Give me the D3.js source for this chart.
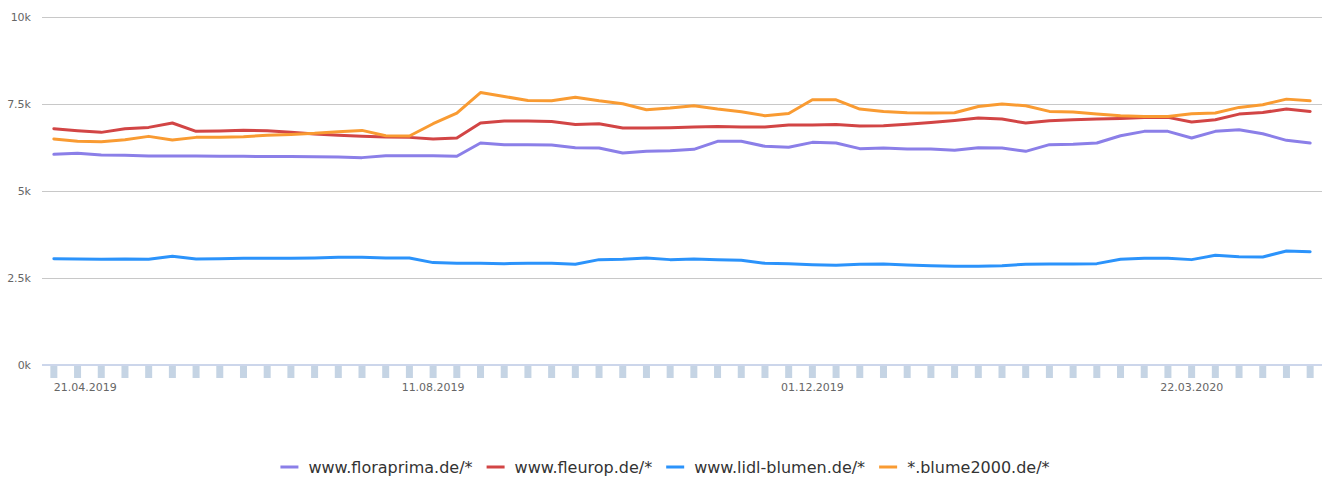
<!DOCTYPE html>
<html>
<head>
<meta charset="utf-8">
<script src="https://cdn.jsdelivr.net/npm/d3@7"></script>
<style>
  html, body { margin: 0; padding: 0; background: #fff; }
  svg { display: block; font-family: "DejaVu Sans", sans-serif; }
</style>
</head>
<body>
<svg id="chart" width="1330" height="482"></svg>
<script>
// ---- data ----
const weeks = [
  "21.04.2019","28.04.2019","05.05.2019","12.05.2019","19.05.2019","26.05.2019",
  "02.06.2019","09.06.2019","16.06.2019","23.06.2019","30.06.2019","07.07.2019",
  "14.07.2019","21.07.2019","28.07.2019","04.08.2019","11.08.2019","18.08.2019",
  "25.08.2019","01.09.2019","08.09.2019","15.09.2019","22.09.2019","29.09.2019",
  "06.10.2019","13.10.2019","20.10.2019","27.10.2019","03.11.2019","10.11.2019",
  "17.11.2019","24.11.2019","01.12.2019","08.12.2019","15.12.2019","22.12.2019",
  "29.12.2019","05.01.2020","12.01.2020","19.01.2020","26.01.2020","02.02.2020",
  "09.02.2020","16.02.2020","23.02.2020","01.03.2020","08.03.2020","15.03.2020",
  "22.03.2020","29.03.2020","05.04.2020","12.04.2020","19.04.2020","26.04.2020"
];
const xTickLabels = ["21.04.2019","11.08.2019","01.12.2019","22.03.2020"];
const yTickValues = [0, 2500, 5000, 7500, 10000];
const yTickLabels = ["0k","2.5k","5k","7.5k","10k"];

const seriesNames = ["www.floraprima.de/*","www.fleurop.de/*","www.lidl-blumen.de/*","*.blume2000.de/*"];

const floraprima = [6054,6083,6035,6025,6006,6006,6006,6000,6000,5988,5988,5985,5978,5959,6016,6016,6016,6000,
  6380,6332,6332,6322,6246,6236,6093,6140,6160,6198,6427,6427,6284,6255,6398,6380,6217,6236,
  6207,6207,6169,6246,6236,6140,6332,6342,6380,6589,6714,6714,6523,6714,6761,6646,6456,6380];
const fleurop = [6790,6733,6685,6790,6828,6953,6714,6723,6743,6733,6685,6637,6599,6570,6551,6541,6494,6523,
  6953,7010,7010,7000,6914,6933,6810,6810,6819,6838,6857,6838,6838,6895,6895,6914,6866,6875,
  6920,6971,7028,7096,7067,6953,7019,7048,7067,7086,7115,7115,6981,7048,7210,7258,7354,7287];
const lidl = [3056,3047,3037,3047,3037,3123,3047,3056,3066,3066,3066,3075,3094,3094,3075,3075,2942,2923,
  2923,2913,2923,2923,2894,3028,3037,3075,3028,3047,3028,3008,2923,2913,2884,2865,2894,2904,
  2875,2855,2837,2837,2855,2894,2904,2904,2913,3037,3066,3066,3028,3152,3114,3104,3275,3256];
const blume2000 = [6494,6427,6418,6475,6570,6465,6541,6541,6561,6599,6627,6656,6704,6742,6589,6580,6933,7240,
  7830,7716,7601,7592,7697,7592,7506,7334,7382,7449,7354,7277,7162,7229,7621,7621,7354,7287,
  7248,7240,7248,7430,7497,7449,7287,7268,7210,7162,7143,7143,7220,7240,7402,7478,7640,7592];

const seriesColors = ["#8b7fe8","#d24545","#2b93fb","#f99b32"];
const seriesValues = [floraprima, fleurop, lidl, blume2000];

// ---- layout ----
const W = 1330, H = 482;
const plot = { left: 42, right: 1322, top: 17, bottom: 365 };
const svg = d3.select("#chart");

const x = d3.scaleBand().domain(weeks).range([plot.left, plot.right]).paddingInner(0).paddingOuter(0);
const cx = d => x(d) + x.bandwidth() / 2;
const y = d3.scaleLinear().domain([0, 10000]).range([plot.bottom, plot.top]);

// grid lines + y labels
const yAxis = d3.axisLeft(y)
  .tickValues(yTickValues)
  .tickSize(-(plot.right - plot.left))
  .tickPadding(11)
  .tickFormat((d, i) => yTickLabels[i]);
const gy = svg.append("g").attr("transform", `translate(${plot.left},0)`).call(yAxis);
gy.select(".domain").remove();
gy.selectAll(".tick line").attr("stroke", "#c8c8c8").attr("stroke-width", 1)
  .attr("shape-rendering", "crispEdges");
gy.selectAll(".tick text").attr("fill", "#666").attr("font-size", 11)
  .attr("font-family", "DejaVu Sans, sans-serif").attr("dy", "0.32em");
gy.selectAll(".tick").filter(d => d === 0).select("line").attr("stroke", "none");

// bars below baseline
svg.append("g").selectAll("rect").data(weeks).join("rect")
  .attr("x", d => cx(d) - 3.5)
  .attr("y", plot.bottom)
  .attr("width", 7)
  .attr("height", 13)
  .attr("fill", "#c5d4e4");

// baseline
svg.append("line")
  .attr("x1", plot.left).attr("x2", plot.right)
  .attr("y1", plot.bottom).attr("y2", plot.bottom)
  .attr("stroke", "#ccd6eb").attr("stroke-width", 2);

// x axis labels
const xAxis = d3.axisBottom(x).tickValues(xTickLabels).tickSize(0).tickPadding(0);
const gx = svg.append("g").attr("transform", `translate(0,${plot.bottom})`).call(xAxis);
gx.select(".domain").remove();
gx.selectAll(".tick text")
  .attr("fill", "#666").attr("font-size", 11)
  .attr("font-family", "DejaVu Sans, sans-serif")
  .attr("y", 26).attr("dy", 0)
  .attr("text-anchor", (d, i) => i === 0 ? "start" : "middle");

// lines
const line = d3.line().x((v, i) => cx(weeks[i])).y(v => y(v));
svg.append("g").selectAll("path").data(seriesValues).join("path")
  .attr("d", d => line(d))
  .attr("fill", "none")
  .attr("stroke", (d, i) => seriesColors[i])
  .attr("stroke-width", 3)
  .attr("stroke-linejoin", "round")
  .attr("stroke-linecap", "round");

// legend
const legend = svg.append("g").attr("font-family", "DejaVu Sans, sans-serif");
const symW = 18, symGap = 10, itemGap = 14, ly = 467;
const items = legend.selectAll("g").data(seriesNames).join("g");
items.append("line")
  .attr("x1", 0).attr("x2", symW).attr("y1", 0).attr("y2", 0)
  .attr("stroke", (d, i) => seriesColors[i]).attr("stroke-width", 3);
items.append("text")
  .attr("x", symW + symGap).attr("y", 5.5)
  .attr("font-size", 16).attr("fill", "#333")
  .text(d => d);
let widths = [];
items.each(function() { widths.push(symW + symGap + d3.select(this).select("text").node().getComputedTextLength()); });
const total = d3.sum(widths) + itemGap * (widths.length - 1);
let pos = (W - total) / 2;
items.each(function(d, i) {
  d3.select(this).attr("transform", `translate(${pos},${ly})`);
  pos += widths[i] + itemGap;
});
</script>
</body>
</html>
